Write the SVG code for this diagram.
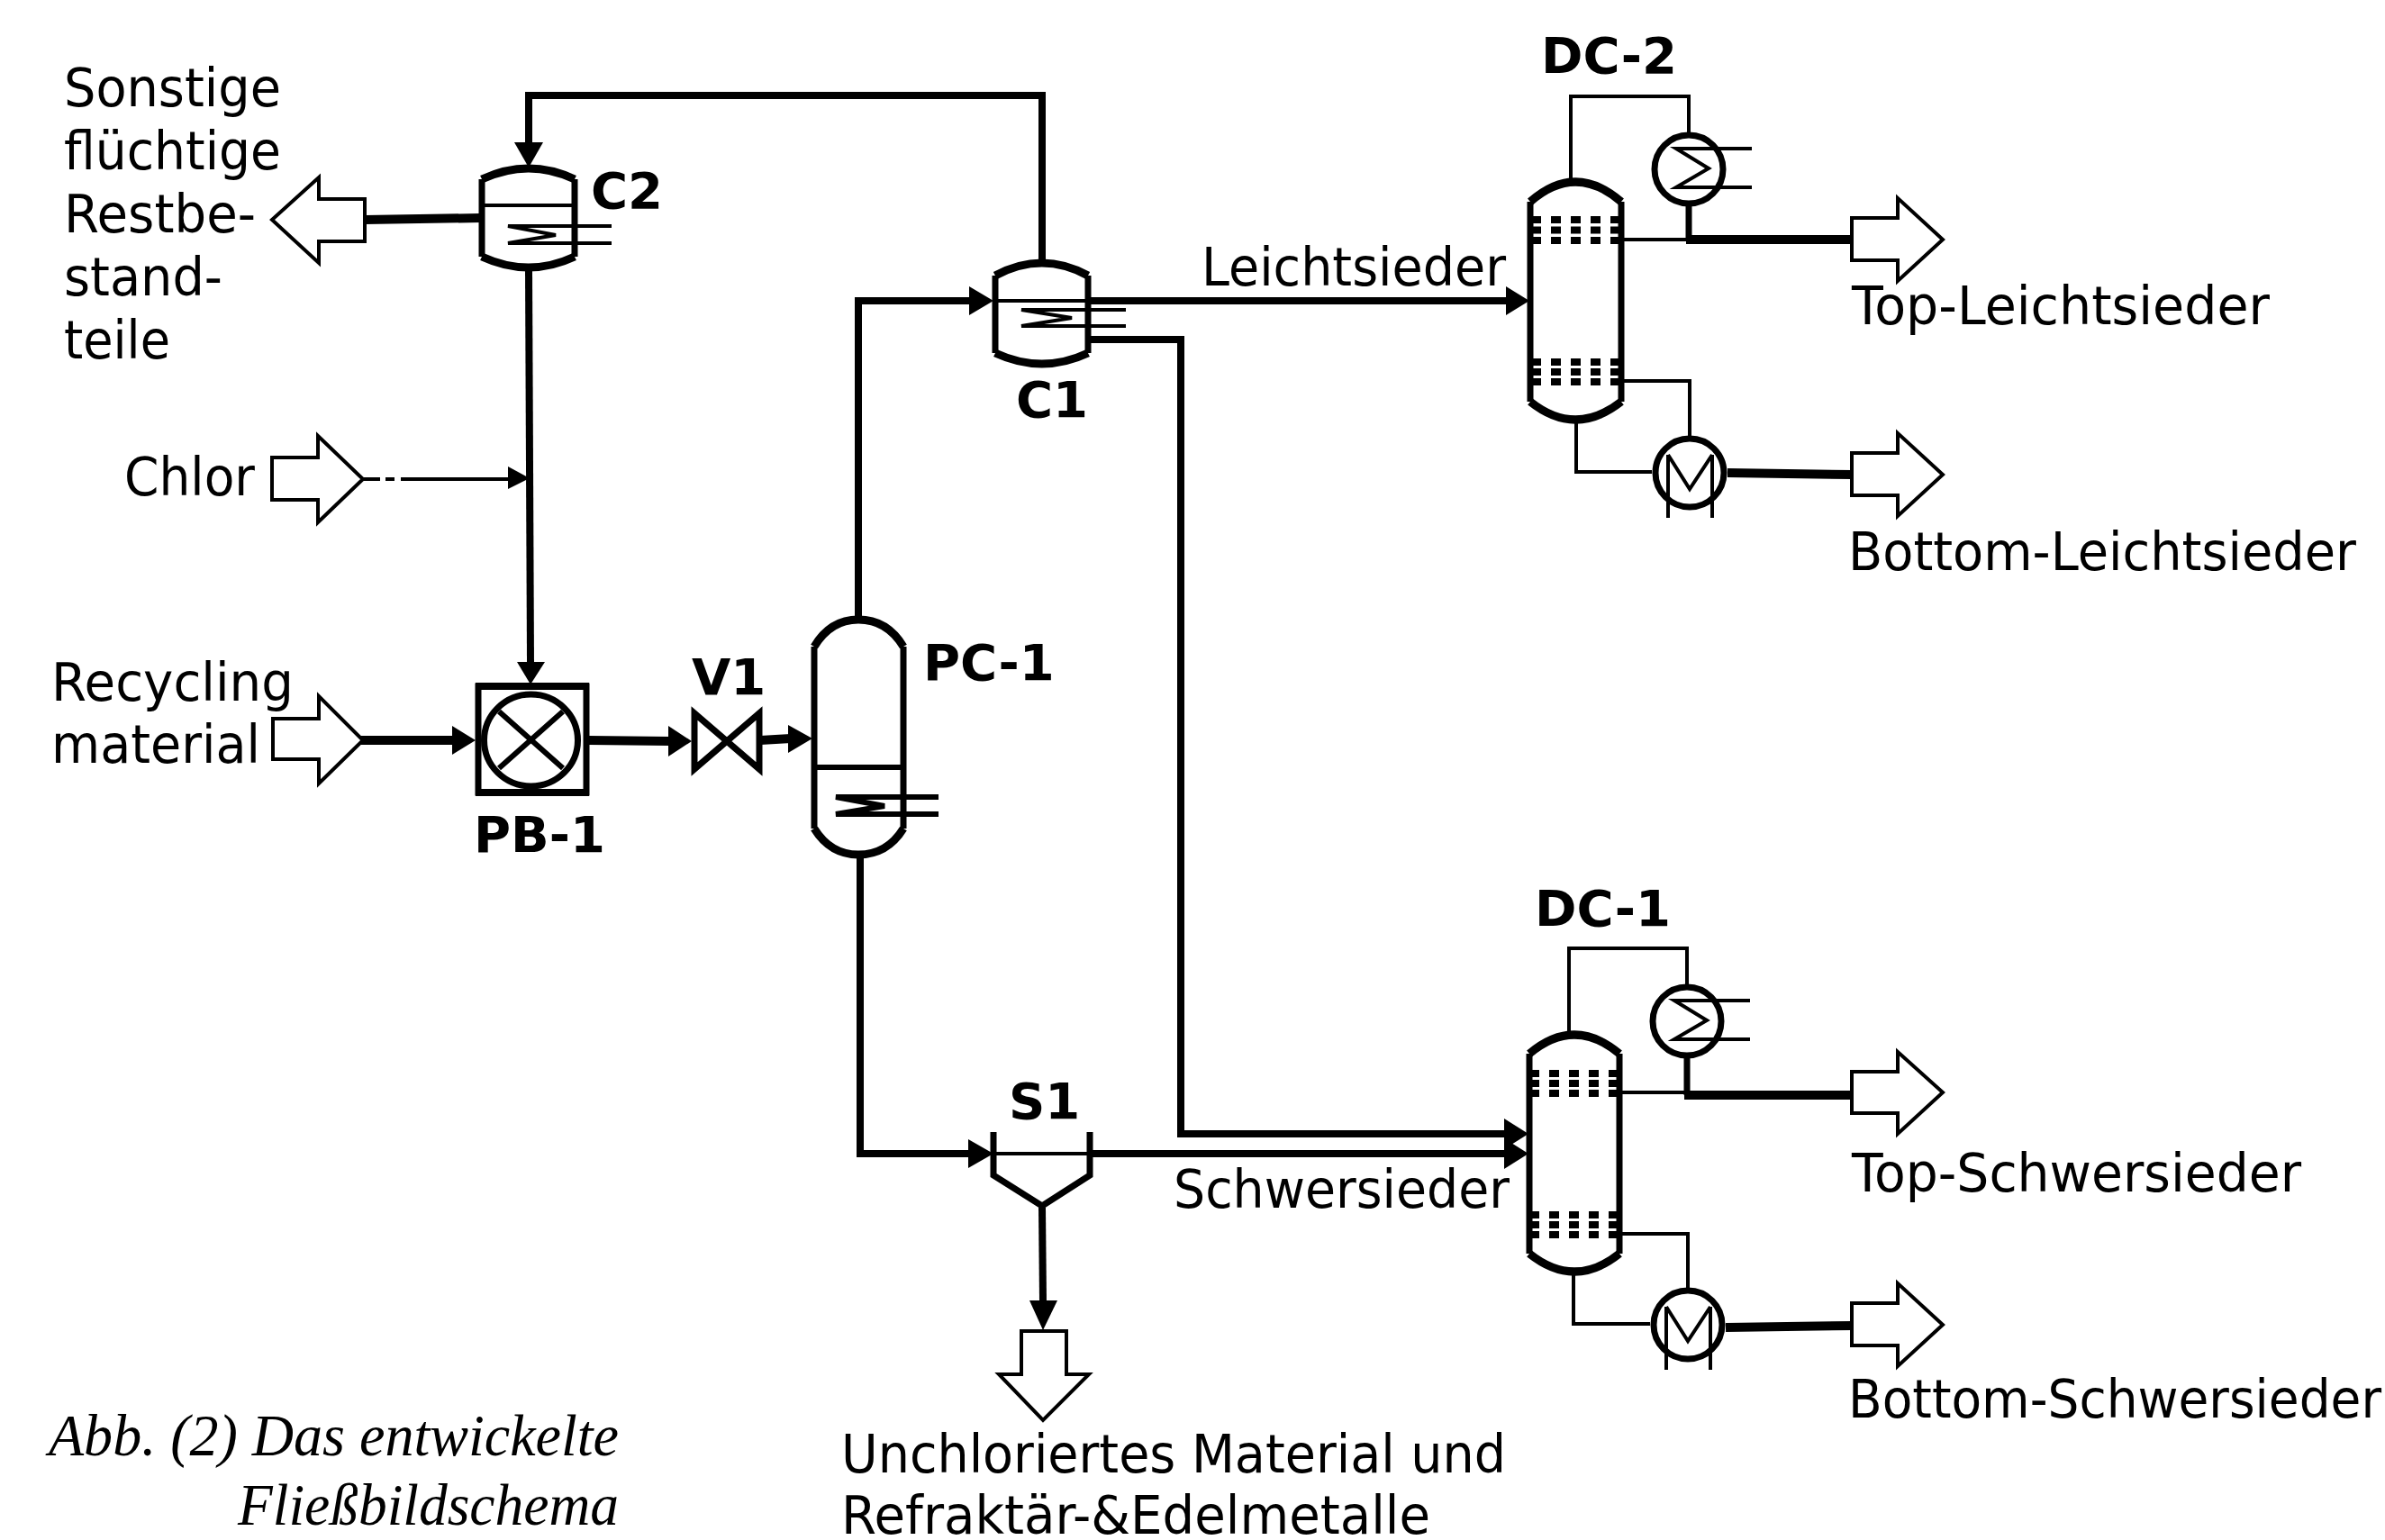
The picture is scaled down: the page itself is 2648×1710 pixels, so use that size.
<svg xmlns="http://www.w3.org/2000/svg" width="2648" height="1710" viewBox="0 0 2648 1710">
<style>
text{font-family:"DejaVu Sans",sans-serif;font-size:58px;fill:#000}
text.b{font-weight:bold;font-size:56px}
text.c{font-family:"Liberation Serif",serif;font-style:italic;font-size:65px}
.s,.m,.t,.h,.o,.f,.w,.r{fill:none;stroke:#000;stroke-linejoin:miter}
.s{stroke-width:8}
.m{stroke-width:6}
.t{stroke-width:4}
.h{stroke-width:10}
.f{stroke-width:4;fill:#fff}
.o{stroke-width:9}
.r{stroke-width:7}
.w{stroke-width:7}
.d{fill:none;stroke:#000;stroke-width:8;stroke-dasharray:11 11}
.a{fill:#000;stroke:none}
</style>
<rect width="2648" height="1710" fill="#fff"/>
<g id="connectors">
<path class="s" d="M1157 289V106H587V160"/>
<path class="a" d="M571 158H603L587 186Z"/>
<path class="s" d="M587 300L589 735"/>
<path class="a" d="M574 735H605L589 760Z"/>
<path class="h" d="M405 244L533 242"/>
<path class="t" d="M403 532H422M428 532H438M445 532H564"/>
<path class="a" d="M564 518L588 531L564 543Z"/>
<path class="h" d="M401 822H505"/>
<path class="a" d="M502 806L528 822L502 838Z"/>
<path class="h" d="M653 822L745 823"/>
<path class="a" d="M742 806L768 823L742 840Z"/>
<path class="h" d="M844 822L878 820"/>
<path class="a" d="M875 805L902 820L875 836Z"/>
<path class="s" d="M953 684V334H1078"/>
<path class="a" d="M1076 318L1103 334L1076 350Z"/>
<path class="s" d="M1210 334H1675"/>
<path class="a" d="M1672 318L1698 334L1672 350Z"/>
<path class="s" d="M1210 377H1311V1259H1675"/>
<path class="a" d="M1670 1242L1697 1259L1670 1276Z"/>
<path class="s" d="M955 952V1281H1078"/>
<path class="a" d="M1075 1265L1103 1281L1075 1297Z"/>
<path class="s" d="M1210 1281H1675"/>
<path class="a" d="M1670 1264L1697 1281L1670 1298Z"/>
<path class="s" d="M1157 1341L1158 1446"/>
<path class="a" d="M1143 1444H1174L1158 1477Z"/>
<path class="t" d="M1801 266H1875"/>
<path class="w" d="M1875 228V266"/>
<path class="h" d="M1872 266H2056"/>
<path class="t" d="M1744 200V107H1875V147"/>
<path class="t" d="M1801 423H1876V484M1750 469V524H1834"/>
<path class="h" d="M1918 525L2056 527"/>
<path class="t" d="M1799 1213H1873"/>
<path class="w" d="M1873 1174V1216"/>
<path class="h" d="M1870 1216H2056"/>
<path class="t" d="M1742 1146V1053H1873V1093"/>
<path class="t" d="M1799 1370H1874V1431M1747 1415V1470H1832"/>
<path class="h" d="M1916 1474L2056 1472"/>
</g>
<g id="C2">
<path class="o" d="M535 199Q587 175 638 199M535 285Q587 309 638 285"/>
<path class="w" d="M535 199V285M638 199V285"/>
<path class="t" d="M535 228H638"/>
<path class="t" d="M679 251H564L617 261L564 270H679"/>
</g>
<g id="C1">
<path class="o" d="M1105 306Q1157 278 1208 306M1105 392Q1157 416 1208 392"/>
<path class="w" d="M1105 306V392M1208 306V392"/>
<path class="t" d="M1105 334H1208"/>
<path class="t" d="M1250 344H1134L1190 353L1134 362H1250"/>
</g>
<g id="PB-1">
<rect class="w" x="531" y="762" width="120" height="118"/>
<path class="a" d="M528 758H654V766H528ZM528 876H654V884H528Z"/>
<ellipse class="w" cx="589.500" cy="822" rx="52" ry="51"/>
<path class="m" d="M554 790L625 853M625 790L554 853"/>
</g>
<g id="V1"><path class="w" d="M771 792V854L843 792V854Z"/></g>
<g id="PC-1">
<path class="o" d="M904 718Q922 688 953 688Q985 688 1003 718M904 920Q922 949 953 949Q985 949 1003 920"/>
<path class="w" d="M904 718V920M1003 718V920"/>
<path class="m" d="M904 852H1003"/>
<path class="m" d="M1042 885H928L982 895L928 904H1042"/>
</g>
<g id="S1"><path class="w" d="M1103 1257V1305L1157 1339L1210 1305V1257"/><path class="t" d="M1103 1281H1210"/></g>
<g id="DC-2">
<path class="o" d="M1699 224Q1749 180 1800 224M1699 446Q1749 486 1800 446"/>
<path class="w" d="M1699 224V446M1800 224V446"/>
<path class="d" d="M1700 244H1800M1700 255.500H1800M1700 267H1800M1700 402H1800M1700 413H1800M1700 424H1800"/>
<circle class="r" cx="1875" cy="188" r="38"/>
<path class="t" d="M1945 165H1861L1897 187L1861 208H1945"/>
<circle class="r" cx="1876" cy="525" r="38"/>
<path class="t" d="M1852 505V575M1901 505V575M1852 505L1876 543L1901 505"/>
</g>
<g id="DC-1">
<path class="o" d="M1698 1170Q1748 1128 1798 1170M1698 1392Q1748 1432 1798 1392"/>
<path class="w" d="M1698 1170V1392M1798 1170V1392"/>
<path class="d" d="M1698 1192H1798M1698 1203H1798M1698 1214H1798M1698 1349H1798M1698 1360H1798M1698 1371H1798"/>
<circle class="r" cx="1873" cy="1134" r="38"/>
<path class="t" d="M1943 1111H1859L1895 1133L1859 1154H1943"/>
<circle class="r" cx="1874" cy="1471" r="38"/>
<path class="t" d="M1850 1451V1521M1899 1451V1521M1850 1451L1874 1489L1899 1451"/>
</g>
<g id="arrows">
<path class="f" d="M405 221H354V197L302 244L354 292V268H405Z"/>
<path class="f" d="M302 508H353V484L403 532L353 580V555H302Z"/>
<path class="f" d="M303 798H354V773L403 822L354 870V843H303Z"/>
<path class="f" d="M2056 242H2107V220L2157 266L2107 312V289H2056Z"/>
<path class="f" d="M2056 503H2107V481L2157 527L2107 573V550H2056Z"/>
<path class="f" d="M2056 1190H2107V1168L2157 1213L2107 1259V1236H2056Z"/>
<path class="f" d="M2056 1447H2107V1425L2157 1471L2107 1517V1494H2056Z"/>
<path class="f" d="M1134 1478H1184V1526H1209L1158 1577L1109 1526H1134Z"/>
</g>
<g id="labels">
<text x="71" y="118" textLength="241" lengthAdjust="spacingAndGlyphs">Sonstige</text>
<text x="71" y="188" textLength="241" lengthAdjust="spacingAndGlyphs">flüchtige</text>
<text x="71" y="258" textLength="213" lengthAdjust="spacingAndGlyphs">Restbe-</text>
<text x="71" y="328" textLength="176" lengthAdjust="spacingAndGlyphs">stand-</text>
<text x="71" y="398" textLength="118" lengthAdjust="spacingAndGlyphs">teile</text>
<text x="138" y="550" textLength="145" lengthAdjust="spacingAndGlyphs">Chlor</text>
<text x="57" y="778" textLength="269" lengthAdjust="spacingAndGlyphs">Recycling</text>
<text x="57" y="847" textLength="232" lengthAdjust="spacingAndGlyphs">material</text>
<text x="1334" y="317" textLength="338" lengthAdjust="spacingAndGlyphs">Leichtsieder</text>
<text x="1303" y="1341" textLength="373" lengthAdjust="spacingAndGlyphs">Schwersieder</text>
<text x="2056" y="360" textLength="464" lengthAdjust="spacingAndGlyphs">Top-Leichtsieder</text>
<text x="2052" y="633" textLength="564" lengthAdjust="spacingAndGlyphs">Bottom-Leichtsieder</text>
<text x="2056" y="1323" textLength="499" lengthAdjust="spacingAndGlyphs">Top-Schwersieder</text>
<text x="2052" y="1574" textLength="592" lengthAdjust="spacingAndGlyphs">Bottom-Schwersieder</text>
<text x="934" y="1635" textLength="738" lengthAdjust="spacingAndGlyphs">Unchloriertes Material und</text>
<text x="934" y="1703" textLength="654" lengthAdjust="spacingAndGlyphs">Refraktär-&amp;Edelmetalle</text>
<text class="b" x="656" y="231">C2</text>
<text class="b" x="1128" y="463">C1</text>
<text class="b" x="1711" y="81">DC-2</text>
<text class="b" x="1704" y="1028">DC-1</text>
<text class="b" x="1120" y="1242">S1</text>
<text class="b" x="526" y="946">PB-1</text>
<text class="b" x="768" y="771">V1</text>
<text class="b" x="1025" y="755">PC-1</text>
<text class="c" x="54" y="1616" textLength="633" lengthAdjust="spacingAndGlyphs">Abb. (2) Das entwickelte</text>
<text class="c" x="264" y="1693" textLength="423" lengthAdjust="spacingAndGlyphs">Fließbildschema</text>
</g>
</svg>
